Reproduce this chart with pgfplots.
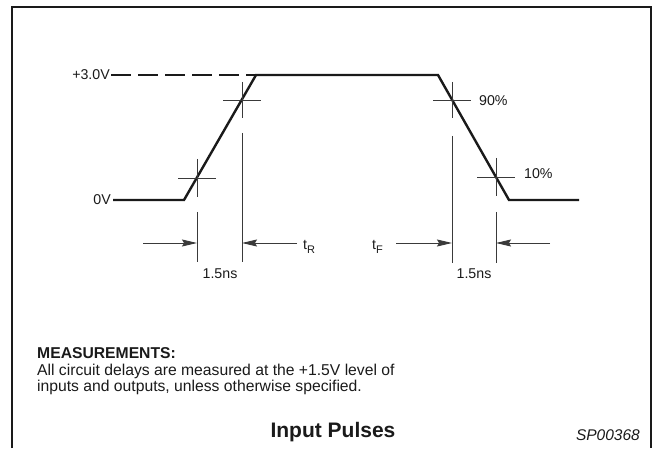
\documentclass[border=0pt]{standalone}
\usepackage{pgfplots}
\pgfplotsset{compat=1.18}
\usepackage{fontspec}
\setmainfont{Liberation Sans}
\usetikzlibrary{arrows.meta}
\definecolor{ink}{HTML}{1A1A1A}
\definecolor{thn}{HTML}{3A3A3A}
\tikzset{
  lbl/.style={font=\fontsize{14.2}{16}\selectfont,text=ink,inner sep=0pt},
  body/.style={font=\fontsize{15.7}{17}\selectfont,text=ink,inner sep=0pt,anchor=base west},
  arr/.style={draw=thn,line width=0.9pt,-{Stealth[length=15pt,width=7pt,inset=2pt]}}}
\newcommand{\sub}[1]{\raisebox{-3.5pt}{\fontsize{11}{12}\selectfont #1}}
\begin{document}
\begin{tikzpicture}
\begin{axis}[x=1pt,y=1pt,y dir=reverse,xmin=0,xmax=654,ymin=0,ymax=447,
  hide axis,clip=false,scale only axis]
\path (axis cs:0,0) rectangle (axis cs:654,447);
% frame
\addplot[ink,line width=2.4pt] coordinates {(12,448) (12,7) (651,7) (651,448)};
% waveform
\addplot[ink,line width=2.4pt,dash pattern=on 20pt off 7pt] coordinates {(111,75) (256,75)};
\addplot[ink,line width=2.4pt,line join=miter] coordinates {(113,200) (184,200) (256,75) (438,75) (509,200) (579,200)};
% crosshairs
\addplot[thn,line width=0.8pt] coordinates {(178,178) (216,178)};
\addplot[thn,line width=0.8pt] coordinates {(197,159) (197,197)};
\addplot[thn,line width=0.8pt] coordinates {(223,100) (261,100)};
\addplot[thn,line width=0.8pt] coordinates {(242,82) (242,118)};
\addplot[thn,line width=0.8pt] coordinates {(433,100) (471,100)};
\addplot[thn,line width=0.8pt] coordinates {(452,82) (452,118)};
\addplot[thn,line width=0.8pt] coordinates {(477,177) (515,177)};
\addplot[thn,line width=0.8pt] coordinates {(496,158) (496,196)};
% dimension lines
\addplot[thn,line width=0.9pt] coordinates {(197,212) (197,262)};
\addplot[thn,line width=0.9pt] coordinates {(242,133) (242,262)};
\addplot[thn,line width=0.9pt] coordinates {(452,136) (452,263)};
\addplot[thn,line width=0.9pt] coordinates {(496,212) (496,263)};
% arrows
\addplot[arr] coordinates {(143,243) (197,243)};
\addplot[arr] coordinates {(297,243) (242,243)};
\addplot[arr] coordinates {(396,243) (452,243)};
\addplot[arr] coordinates {(550,243) (496,243)};
% labels
\node[lbl,anchor=east] at (axis cs:110,75) {+3.0V};
\node[lbl,anchor=east] at (axis cs:111,200) {0V};
\node[lbl,anchor=west] at (axis cs:479,101) {90\%};
\node[lbl,anchor=west] at (axis cs:524,174) {10\%};
\node[lbl,anchor=base west] at (axis cs:303,250) {t\sub{R}};
\node[lbl,anchor=base west] at (axis cs:372,250) {t\sub{F}};
\node[lbl,anchor=base] at (axis cs:220,279) {1.5ns};
\node[lbl,anchor=base] at (axis cs:474,279) {1.5ns};
% notes
\node[body,font=\fontsize{15.7}{17}\selectfont\bfseries] at (axis cs:37,358) {MEASUREMENTS:};
\node[body] at (axis cs:37,375) {All circuit delays are measured at the +1.5V level of};
\node[body] at (axis cs:37,391) {inputs and outputs, unless otherwise specified.};
\node[text=ink,inner sep=0pt,anchor=base,font=\fontsize{21}{24}\selectfont\bfseries] at (axis cs:333,437) {Input Pulses};
\node[text=ink,inner sep=0pt,anchor=base east,font=\fontsize{15.5}{17}\selectfont\itshape] at (axis cs:640,440) {SP00368};
\end{axis}
\end{tikzpicture}
\end{document}
